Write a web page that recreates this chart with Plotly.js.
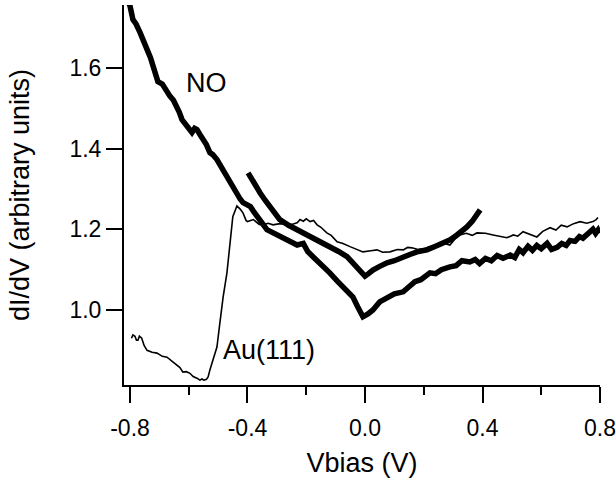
<!DOCTYPE html>
<html>
<head>
<meta charset="utf-8">
<script src="https://cdn.plot.ly/plotly-3.0.1.min.js"></script>
<style>html,body{margin:0;padding:0;background:#fff;}#chart{width:616px;height:483px;}</style>
</head>
<body>
<div id="chart"></div>
<script>
// NO spectrum, full sweep (thick, lower)
const noFullV = [-0.807,-0.80,-0.79,-0.78,-0.766,-0.755,-0.742,-0.73,-0.72,-0.712,-0.705,-0.69,-0.68,-0.672,-0.664,-0.652,-0.64,-0.632,-0.623,-0.615,-0.606,-0.598,-0.589,-0.58,-0.572,-0.562,-0.55,-0.54,-0.528,-0.518,-0.504,-0.494,-0.483,-0.472,-0.46,-0.448,-0.436,-0.425,-0.415,-0.40,-0.39,-0.38,-0.368,-0.35,-0.334,-0.31,-0.29,-0.27,-0.25,-0.231,-0.21,-0.195,-0.177,-0.15,-0.12,-0.095,-0.075,-0.055,-0.041,-0.025,-0.007,0.01,0.027,0.05,0.075,0.10,0.13,0.15,0.17,0.19,0.205,0.221,0.24,0.26,0.289,0.31,0.33,0.357,0.375,0.39,0.41,0.43,0.45,0.47,0.494,0.51,0.525,0.538,0.555,0.57,0.585,0.60,0.62,0.635,0.654,0.67,0.685,0.698,0.715,0.73,0.742,0.76,0.776,0.785,0.793,0.798];
const noFullG = [1.765,1.754,1.72,1.71,1.688,1.665,1.646,1.625,1.604,1.59,1.566,1.56,1.547,1.54,1.53,1.52,1.504,1.49,1.472,1.465,1.455,1.445,1.44,1.45,1.447,1.435,1.422,1.41,1.39,1.385,1.373,1.36,1.348,1.335,1.318,1.305,1.29,1.275,1.266,1.26,1.256,1.245,1.231,1.215,1.199,1.19,1.18,1.172,1.165,1.161,1.165,1.145,1.132,1.115,1.092,1.072,1.057,1.045,1.032,1.008,0.983,0.99,1.0,1.02,1.032,1.04,1.045,1.058,1.07,1.075,1.085,1.092,1.09,1.10,1.107,1.11,1.122,1.119,1.125,1.115,1.128,1.122,1.135,1.128,1.136,1.13,1.15,1.142,1.158,1.148,1.16,1.152,1.165,1.15,1.155,1.165,1.16,1.172,1.17,1.182,1.178,1.192,1.2,1.19,1.198,1.19];
// NO spectrum, short sweep (thick, middle)
const noShortV = [-0.398,-0.38,-0.357,-0.34,-0.323,-0.305,-0.29,-0.26,-0.231,-0.2,-0.177,-0.15,-0.12,-0.09,-0.061,-0.045,-0.027,-0.012,0.0,0.012,0.027,0.05,0.075,0.10,0.13,0.155,0.177,0.211,0.24,0.266,0.29,0.313,0.33,0.347,0.365,0.381,0.392];
const noShortG = [1.34,1.316,1.29,1.272,1.256,1.238,1.224,1.21,1.199,1.19,1.181,1.17,1.157,1.145,1.132,1.12,1.107,1.095,1.084,1.09,1.099,1.108,1.117,1.122,1.129,1.138,1.144,1.149,1.158,1.166,1.174,1.186,1.195,1.206,1.22,1.236,1.248];
// Au(111) spectrum (thin)
const auV = [-0.795,-0.79,-0.783,-0.778,-0.773,-0.768,-0.76,-0.752,-0.742,-0.725,-0.708,-0.69,-0.674,-0.655,-0.64,-0.63,-0.62,-0.608,-0.596,-0.585,-0.572,-0.562,-0.555,-0.548,-0.54,-0.534,-0.528,-0.517,-0.504,-0.494,-0.483,-0.47,-0.46,-0.45,-0.436,-0.425,-0.415,-0.405,-0.40,-0.39,-0.38,-0.36,-0.347,-0.33,-0.313,-0.29,-0.27,-0.25,-0.231,-0.221,-0.21,-0.2,-0.187,-0.175,-0.163,-0.15,-0.13,-0.115,-0.095,-0.075,-0.051,-0.03,-0.007,0.02,0.041,0.06,0.085,0.11,0.13,0.145,0.16,0.18,0.20,0.225,0.25,0.27,0.289,0.305,0.323,0.345,0.365,0.381,0.41,0.436,0.46,0.483,0.505,0.52,0.538,0.56,0.585,0.605,0.63,0.65,0.668,0.688,0.71,0.732,0.755,0.776,0.787,0.793];
const auG = [0.93,0.938,0.935,0.925,0.925,0.935,0.93,0.912,0.90,0.895,0.893,0.885,0.883,0.872,0.863,0.857,0.846,0.847,0.843,0.835,0.831,0.826,0.829,0.826,0.828,0.834,0.851,0.876,0.908,0.968,1.032,1.092,1.157,1.231,1.258,1.25,1.24,1.222,1.219,1.222,1.224,1.212,1.211,1.215,1.211,1.214,1.213,1.212,1.216,1.224,1.22,1.226,1.219,1.222,1.211,1.205,1.191,1.185,1.169,1.165,1.157,1.15,1.144,1.147,1.149,1.143,1.144,1.15,1.149,1.155,1.154,1.15,1.152,1.158,1.16,1.165,1.161,1.175,1.186,1.19,1.185,1.191,1.19,1.186,1.182,1.179,1.186,1.183,1.194,1.188,1.181,1.195,1.204,1.198,1.21,1.206,1.214,1.219,1.215,1.219,1.224,1.229];
const xTickVals = [-0.8,-0.4,0.0,0.4,0.8];
const xTickText = ['-0.8','-0.4','0.0','0.4','0.8'];
const yTickVals = [1.0,1.2,1.4,1.6];
const yTickText = ['1.0','1.2','1.4','1.6'];

const FONT = 'Liberation Sans, Arial, Helvetica, sans-serif';
const traces = [
  {x: auV, y: auG, mode: 'lines', line: {color: '#000', width: 1.6}, hoverinfo: 'skip'},
  {x: noFullV, y: noFullG, mode: 'lines', line: {color: '#000', width: 5.5}, hoverinfo: 'skip'},
  {x: noShortV, y: noShortG, mode: 'lines', line: {color: '#000', width: 5.5}, hoverinfo: 'skip'}
];
const layout = {
  width: 616, height: 483,
  margin: {l: 124, r: 16, t: 5, b: 98},
  paper_bgcolor: '#fff', plot_bgcolor: '#fff',
  showlegend: false,
  font: {family: FONT, color: '#000'},
  xaxis: {
    range: [-0.8204, 0.8], showgrid: false, zeroline: false,
    showline: true, linewidth: 2, linecolor: '#000',
    ticks: 'outside', ticklen: 16, tickwidth: 2, tickcolor: '#000',
    tickvals: xTickVals, ticktext: xTickText,
    tickfont: {size: 23, family: FONT},
    ticklabelstandoff: 5,
    minor: {dtick: 0.2, tick0: -0.8, ticks: 'outside', ticklen: 8, tickwidth: 2, tickcolor: '#000', showgrid: false},
    title: {text: 'Vbias (V)', font: {size: 27, family: FONT}, standoff: 14}
  },
  yaxis: {
    range: [0.814, 1.756], showgrid: false, zeroline: false,
    showline: true, linewidth: 2, linecolor: '#000',
    ticks: 'outside', ticklen: 16, tickwidth: 2, tickcolor: '#000',
    tickvals: yTickVals, ticktext: yTickText,
    tickfont: {size: 23, family: FONT},
    title: {text: 'dI/dV (arbitrary units)', font: {size: 27, family: FONT}, standoff: 32}
  },
  annotations: [
    {x: -0.541, y: 1.563, xref: 'x', yref: 'y', text: 'NO', showarrow: false, font: {size: 27, family: FONT, color: '#000'}},
    {x: -0.327, y: 0.90, xref: 'x', yref: 'y', text: 'Au(111)', showarrow: false, font: {size: 27, family: FONT, color: '#000'}}
  ]
};
Plotly.newPlot('chart', traces, layout, {staticPlot: true, displayModeBar: false});
</script>
</body>
</html>
